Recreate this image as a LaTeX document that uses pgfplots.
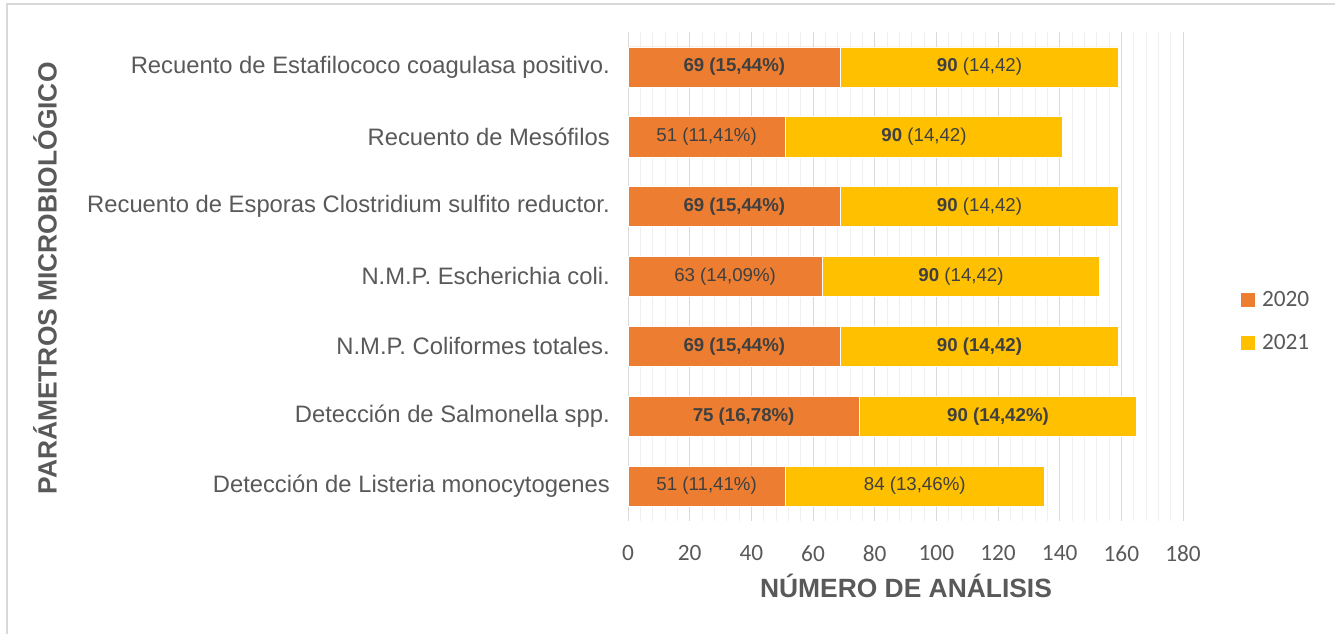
\documentclass[border=0pt]{standalone}
\usepackage{pgfplots}
\pgfplotsset{compat=1.18}
\usepackage{fontspec}
\setmainfont{Liberation Sans}
\newfontfamily\calibri{Carlito}
\definecolor{c2020}{HTML}{ED7D31}
\definecolor{c2021}{HTML}{FFC000}
\definecolor{txt}{HTML}{595959}
\definecolor{lbl}{HTML}{404040}
\definecolor{gmaj}{HTML}{D9D9D9}
\definecolor{gmin}{HTML}{EFEFEF}
\definecolor{frm}{HTML}{D9D9D9}

% labels of the segments, by row (0 = bottom row)
\newcommand\labA[1]{\ifcase#1 51 (11,41\%)\or \textbf{75 (16,78\%)}\or \textbf{69 (15,44\%)}\or 63 (14,09\%)\or \textbf{69 (15,44\%)}\or 51 (11,41\%)\or \textbf{69 (15,44\%)}\fi}
\newcommand\labB[1]{\ifcase#1 84 (13,46\%)\or \textbf{90 (14,42\%)}\or \textbf{90 (14,42)}\or \textbf{90} (14,42)\or \textbf{90} (14,42)\or \textbf{90} (14,42)\or \textbf{90} (14,42)\fi}

\begin{document}
\begin{tikzpicture}[x=0.75pt,y=0.75pt]
\path[use as bounding box] (0,0) rectangle (1335,634);
\draw[frm, line width=1pt] (7,0) -- (7,630) -- (1335,630);
\begin{axis}[
  at={(471pt,84.75pt)}, anchor=south west,
  scale only axis, width=416.25pt, height=366.75pt,
  xbar stacked, bar width=0.573,
  xmin=0, xmax=180, ymin=-0.5, ymax=6.5,
  axis line style={draw=none}, tick style={draw=none},
  xtick={0,20,...,180},
  xticklabels={0,20,40,60,80,100,120,140,160,180},
  minor x tick num=4,
  xmajorgrids, xminorgrids,
  major grid style={gmaj, line width=0.75pt},
  minor grid style={gmin, line width=0.75pt},
  xticklabel style={font=\calibri\fontsize{17.5}{20}\selectfont, text=txt, anchor=north, inner sep=0pt, yshift=-18.4pt},
  ytick={0,...,6},
  yticklabels={Detección de Listeria monocytogenes, Detección de Salmonella spp., N.M.P. Coliformes totales., N.M.P. Escherichia coli., Recuento de Esporas Clostridium sulfito reductor., Recuento de Mesófilos, Recuento de Estafilococo coagulasa positivo.},
  yticklabel style={font=\fontsize{17.85}{20}\selectfont, text=txt, anchor=east, inner sep=0pt, xshift=-13.5pt},
  legend image code/.code={\fill[#1] (0pt,-5.25pt) rectangle (10.5pt,5.25pt);},
  legend style={at={(axis description cs:1.1045,0.4703)}, anchor=north west, draw=none, fill=none,
    inner sep=0pt, outer sep=0pt, font=\calibri\fontsize{17.5}{20}\selectfont, text=txt,
    row sep=19.75pt, nodes={inner sep=0pt},
    /tikz/every odd column/.append style={column sep=5.25pt}},
]
\addlegendimage{fill=c2020, draw=none}
\addlegendentry{2020}
\addlegendimage{fill=c2021, draw=none}
\addlegendentry{2021}
\addplot[fill=c2020, draw=white, line width=0.4pt, nodes near coords={\labA{\coordindex}},
  nodes near coords style={font=\fontsize{14}{16}\selectfont, text=lbl, inner sep=0pt, anchor=center}]
  coordinates {(51,0) (75,1) (69,2) (63,3) (69,4) (51,5) (69,6)};
\addplot[fill=c2021, draw=white, line width=0.4pt, nodes near coords={\labB{\coordindex}},
  nodes near coords style={font=\fontsize{14}{16}\selectfont, text=lbl, inner sep=0pt, anchor=center}]
  coordinates {(84,0) (90,1) (90,2) (90,3) (90,4) (90,5) (90,6)};
\end{axis}
\node[rotate=90, anchor=base, font=\bfseries\fontsize{19.8}{22}\selectfont, text=txt] at (56.7,355.5) {PARÁMETROS MICROBIOLÓGICO};
\node[anchor=base, font=\bfseries\fontsize{19.8}{22}\selectfont, text=txt] at (906,36) {NÚMERO DE ANÁLISIS};
\end{tikzpicture}
\end{document}
